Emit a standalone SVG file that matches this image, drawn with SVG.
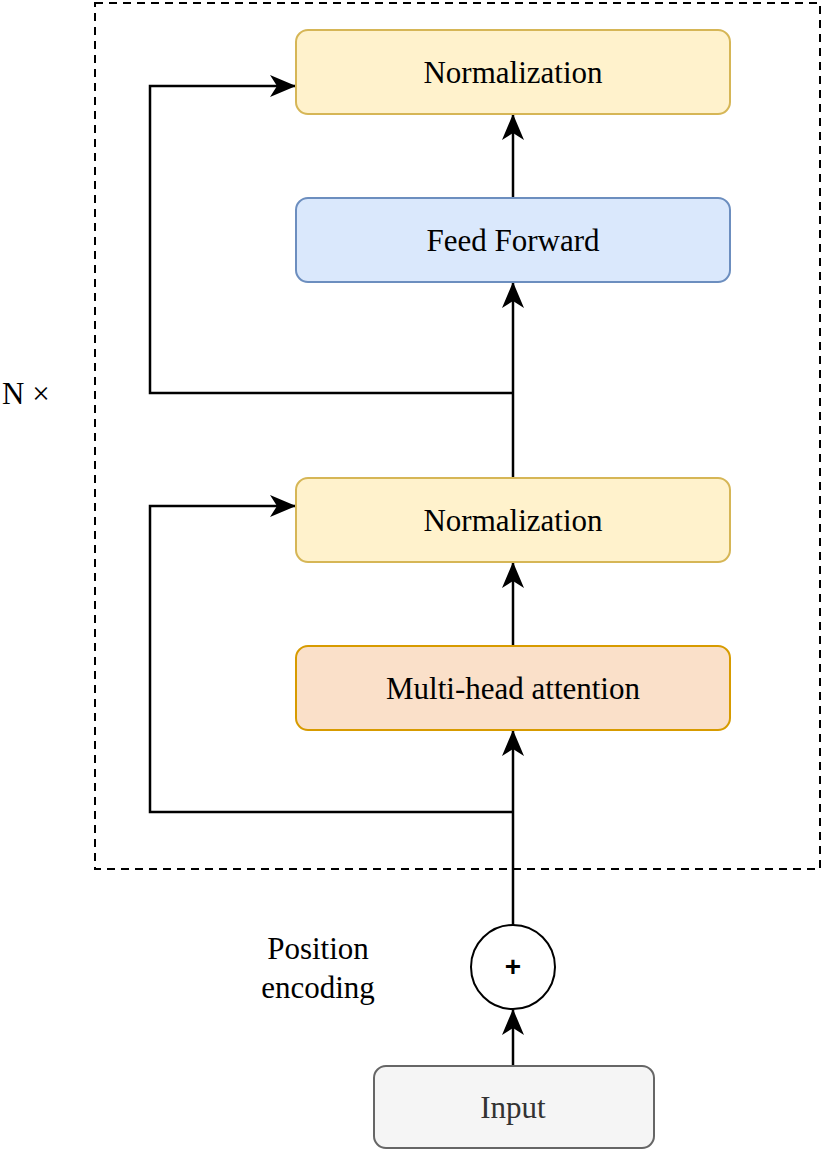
<svg xmlns="http://www.w3.org/2000/svg" width="823" height="1151" viewBox="0 0 823 1151">
<style>
.lbl{font-family:"Liberation Serif","Times New Roman",serif;font-size:31px;text-anchor:middle;dominant-baseline:central;fill:#000}
.box{stroke-width:2}
.ln{fill:none;stroke:#000;stroke-width:2.5}
</style>
<defs>
<marker id="arr" viewBox="0 0 26 22" refX="25" refY="11" markerWidth="26" markerHeight="22" markerUnits="userSpaceOnUse" orient="auto">
<path d="M0,0 L26,11 L0,22 L7,11 Z" fill="#000"/>
</marker>
</defs>
<rect x="95" y="3" width="725" height="866" fill="none" stroke="#000" stroke-width="2" stroke-dasharray="8,6"/>
<g id="connectors">
<path class="ln" d="M513,198 L513,115" marker-end="url(#arr)"/>
<path class="ln" d="M513,478 L513,283" marker-end="url(#arr)"/>
<path class="ln" d="M513,646 L513,563" marker-end="url(#arr)"/>
<path class="ln" d="M513,925 L513,731" marker-end="url(#arr)"/>
<path class="ln" d="M513,1066 L513,1010" marker-end="url(#arr)"/>
<path class="ln" d="M513,393 L150,393 L150,86 L295,86" marker-end="url(#arr)"/>
<path class="ln" d="M513,812 L150,812 L150,506 L295,506" marker-end="url(#arr)"/>
</g>
<g id="norm-top">
<rect class="box" x="296" y="30" width="434" height="84" rx="12" fill="#fff2cc" stroke="#d6b656"/>
<text class="lbl" x="513" y="72">Normalization</text>
</g>
<g id="feed-forward">
<rect class="box" x="296" y="198" width="434" height="84" rx="12" fill="#dae8fc" stroke="#6c8ebf"/>
<text class="lbl" x="513" y="240">Feed Forward</text>
</g>
<g id="norm-bottom">
<rect class="box" x="296" y="478" width="434" height="84" rx="12" fill="#fff2cc" stroke="#d6b656"/>
<text class="lbl" x="513" y="520">Normalization</text>
</g>
<g id="mha">
<rect class="box" x="296" y="646" width="434" height="84" rx="12" fill="#fae0c9" stroke="#d79b00"/>
<text class="lbl" x="513" y="688">Multi-head attention</text>
</g>
<g id="plus">
<circle cx="513" cy="967" r="42" fill="#fff" stroke="#000" stroke-width="2"/>
<text class="lbl" x="513" y="966" style="font-family:'Liberation Sans',Arial,sans-serif;font-size:28px;font-weight:bold">+</text>
</g>
<g id="input">
<rect class="box" x="374" y="1066" width="280" height="82" rx="12" fill="#f5f5f5" stroke="#666666"/>
<text class="lbl" x="513" y="1107" style="fill:#333333">Input</text>
</g>
<g id="pos-label">
<text class="lbl" x="318" y="948">Position</text>
<text class="lbl" x="318" y="987">encoding</text>
</g>
<g id="n-label">
<text class="lbl" x="2" y="393" style="text-anchor:start">N ×</text>
</g>
</svg>
